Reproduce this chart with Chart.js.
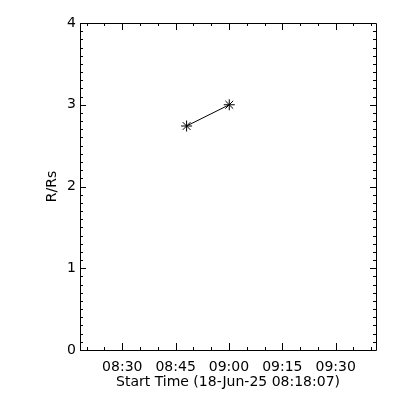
<!DOCTYPE html>
<html>
<head>
<meta charset="utf-8">
<script src="https://cdn.jsdelivr.net/npm/chart.js@4"></script>
<style>
  html, body { margin: 0; padding: 0; background: #fff; }
  #wrap { width: 400px; height: 400px; }
</style>
</head>
<body>
<div id="wrap"><canvas id="grafica" width="400" height="400"></canvas></div>
<script>
// datos
const startTime = '08:18:07';
const endTime = '09:41:20';
const times = ['08:48:05', '09:00:05'];
const heights = [2.74, 3.00];
const xTickLabels = ['08:30', '08:45', '09:00', '09:15', '09:30'];
const yTickLabels = [0, 1, 2, 3, 4];
const xMinorStep = 5;   // minutos
const yMinorStep = 0.1;

function toMin(s) {
    let p = s.split(':').map(Number);
    return p[0] * 60 + p[1] + (p[2] || 0) / 60;
}

const xMin = toMin(startTime);
const xMax = toMin(endTime);

let puntos = [];
for (let i = 0; i < times.length; i++) {
    puntos.push({ x: toMin(times[i]), y: heights[i] });
}

// ticks estilo IDL: hacia dentro en los cuatro lados
const ticksIDL = {
    id: 'ticksIDL',
    afterDraw(chart) {
        const ctx = chart.ctx;
        const a = chart.chartArea;
        const xs = chart.scales.x;
        const ys = chart.scales.y;
        ctx.save();
        ctx.strokeStyle = '#000';
        ctx.lineWidth = 1;
        ctx.beginPath();
        ctx.rect(a.left + 0.5, a.top + 0.5, a.right - a.left, a.bottom - a.top);
        // eje x
        for (let v = Math.ceil(xMin / xMinorStep) * xMinorStep; v <= xMax; v += xMinorStep) {
            let px = Math.round(xs.getPixelForValue(v)) + 0.5;
            let len = (v % 15 === 0) ? 7 : 3;
            ctx.moveTo(px, a.bottom);
            ctx.lineTo(px, a.bottom - len);
            ctx.moveTo(px, a.top);
            ctx.lineTo(px, a.top + len);
        }
        // eje y
        for (let k = 0; k <= 40; k++) {
            let v = k * yMinorStep;
            let py = Math.round(ys.getPixelForValue(v)) + 0.5;
            let len = (k % 10 === 0) ? 6 : 3;
            ctx.moveTo(a.left, py);
            ctx.lineTo(a.left + len, py);
            ctx.moveTo(a.right, py);
            ctx.lineTo(a.right - len, py);
        }
        ctx.stroke();
        ctx.restore();
    }
};

const fuente = { family: 'DejaVu Sans', size: 14 };

new Chart(document.getElementById('grafica'), {
    type: 'scatter',
    data: {
        datasets: [{
            data: puntos,
            showLine: true,
            borderColor: '#000',
            borderWidth: 1,
            backgroundColor: '#000',
            pointStyle: 'star',
            pointRadius: 5.5,
            pointBorderColor: '#000',
            pointBorderWidth: 1
        }]
    },
    options: {
        responsive: false,
        animation: false,
        layout: { padding: { top: 23, right: 24, left: 0, bottom: 0 } },
        plugins: {
            legend: { display: false },
            tooltip: { enabled: false }
        },
        scales: {
            x: {
                type: 'linear',
                min: xMin,
                max: xMax,
                afterFit: s => { s.height = 50; },
                afterBuildTicks: s => { s.ticks = xTickLabels.map(t => ({ value: toMin(t) })); },
                grid: { display: false, drawTicks: false },
                border: { display: false },
                ticks: {
                    color: '#000',
                    font: fuente,
                    padding: 9,
                    maxRotation: 0,
                    autoSkip: false,
                    callback: (v, i) => xTickLabels[i]
                },
                title: {
                    display: true,
                    text: 'Start Time (' + '18-Jun-25 ' + startTime + ')',
                    color: '#000',
                    font: fuente,
                    padding: { top: 0, bottom: 9.5 }
                }
            },
            y: {
                type: 'linear',
                min: 0,
                max: 4,
                afterFit: s => { s.width = 80; },
                afterBuildTicks: s => { s.ticks = yTickLabels.map(v => ({ value: v })); },
                grid: { display: false, drawTicks: false },
                border: { display: false },
                ticks: {
                    color: '#000',
                    font: fuente,
                    padding: 4,
                    callback: v => String(v)
                },
                title: {
                    display: true,
                    text: 'R/Rs',
                    color: '#000',
                    font: fuente,
                    padding: { top: 43.5, bottom: 0 }
                }
            }
        }
    },
    plugins: [ticksIDL]
});
</script>
</body>
</html>
